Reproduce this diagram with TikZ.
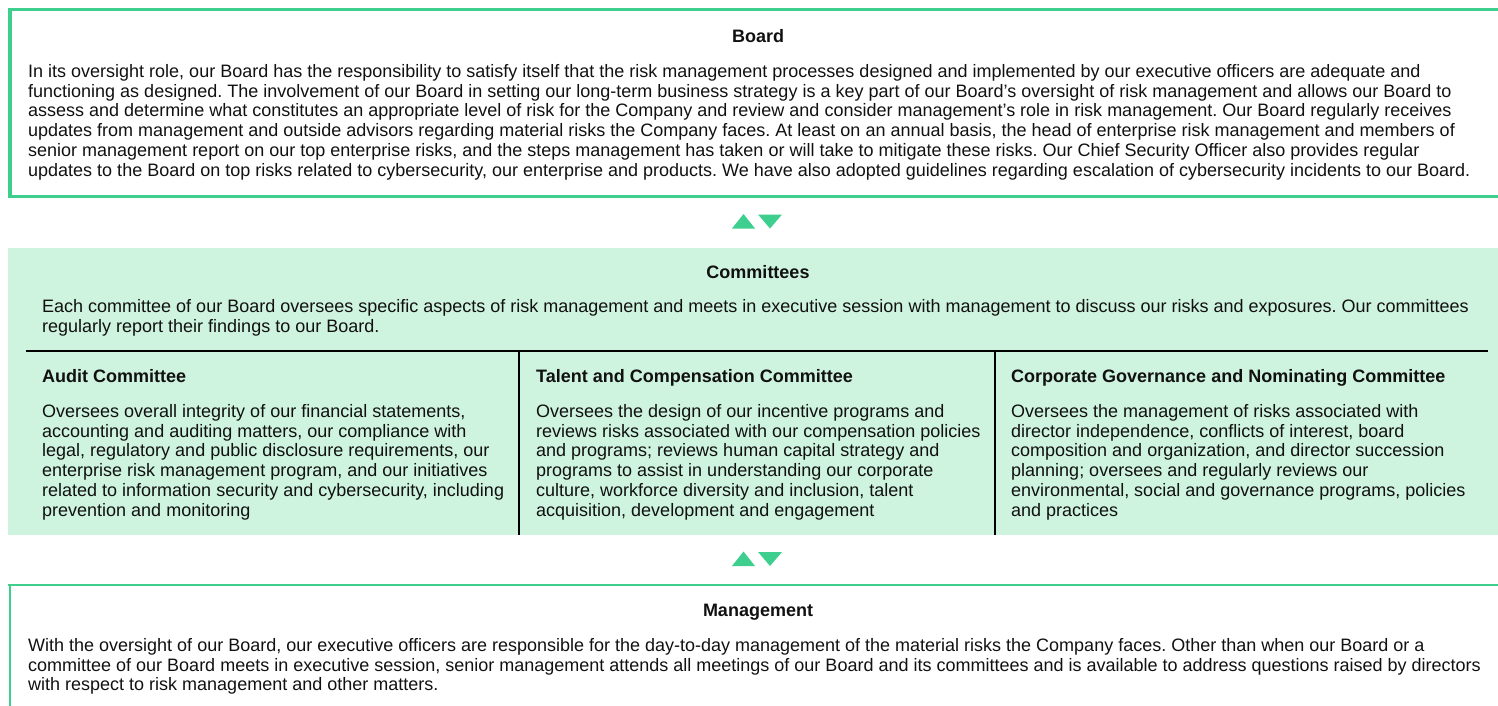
\documentclass[tikz,border=0pt]{standalone}
\usepackage{fontspec}
\setmainfont{Liberation Sans}
\frenchspacing
\definecolor{gr}{RGB}{62,207,142}
\definecolor{lgr}{RGB}{206,243,222}
\definecolor{ink}{RGB}{17,17,17}
\newcommand{\fs}{\fontsize{18}{19.8}\selectfont}
\newcommand{\tp}{\rule{0pt}{13.2pt}}
\begin{document}
\begin{tikzpicture}[x=1pt,y=-1pt,
  body/.style={anchor=north west, inner sep=0pt, align=left, font=\fs, text=ink},
  ttl/.style={anchor=base, inner sep=0pt, font=\bfseries\fs, text=ink},
  sub/.style={anchor=base west, inner sep=0pt, font=\bfseries\fs, text=ink},
  tri/.style={fill=gr}]
\useasboundingbox (0,0) rectangle (1498,706);
% Board frame
\draw[gr, line width=3pt] (8,10) -- (1498,10);
\draw[gr, line width=3pt] (8,196) -- (1498,196);
\draw[gr, line width=4pt] (10,8.5) -- (10,197.5);
% Committees box
\fill[lgr] (8,248) rectangle (1498,535);
\draw[black, line width=2pt] (26,351) -- (1488,351);
\draw[black, line width=2pt] (519,350) -- (519,535);
\draw[black, line width=2pt] (995,350) -- (995,535);
% Management frame
\draw[gr, line width=2pt] (8,585) -- (1498,585);
\draw[gr, line width=2pt] (9.5,584) -- (9.5,706);
% triangles
\fill[tri] (732,228.5) -- (755,228.5) -- (743.5,214) -- cycle;
\fill[tri] (758,214.5) -- (782,214.5) -- (770,228.5) -- cycle;
\fill[tri] (732,566) -- (755,566) -- (743.5,551.5) -- cycle;
\fill[tri] (758,552) -- (782,552) -- (770,566) -- cycle;
% Board
\node[ttl] (boardT) at (758,42.5) {Board};
\node[body] (boardB) at (28,63.8) {\tp In its oversight role, our Board has the responsibility to satisfy itself that the risk management processes designed and implemented by our executive officers are adequate and\\
functioning as designed. The involvement of our Board in setting our long-term business strategy is a key part of our Board’s oversight of risk management and allows our Board to\\
assess and determine what constitutes an appropriate level of risk for the Company and review and consider management’s role in risk management. Our Board regularly receives\\
updates from management and outside advisors regarding material risks the Company faces. At least on an annual basis, the head of enterprise risk management and members of\\
senior management report on our top enterprise risks, and the steps management has taken or will take to mitigate these risks. Our Chief Security Officer also provides regular\\
updates to the Board on top risks related to cybersecurity, our enterprise and products. We have also adopted guidelines regarding escalation of cybersecurity incidents to our Board.};
% Committees
\node[ttl] (comT) at (758,278.5) {Committees};
\node[body] (comB) at (42,299.5) {\tp Each committee of our Board oversees specific aspects of risk management and meets in executive session with management to discuss our risks and exposures. Our committees\\
regularly report their findings to our Board.};
\node[sub] (audT) at (42,382.5) {Audit Committee};
\node[body] (audB) at (42,403.8) {\tp Oversees overall integrity of our financial statements,\\
accounting and auditing matters, our compliance with\\
legal, regulatory and public disclosure requirements, our\\
enterprise risk management program, and our initiatives\\
related to information security and cybersecurity, including\\
prevention and monitoring};
\node[sub] (talT) at (536,382.5) {Talent and Compensation Committee};
\node[body] (talB) at (536,403.8) {\tp Oversees the design of our incentive programs and\\
reviews risks associated with our compensation policies\\
and programs; reviews human capital strategy and\\
programs to assist in understanding our corporate\\
culture, workforce diversity and inclusion, talent\\
acquisition, development and engagement};
\node[sub] (corT) at (1011,382.5) {Corporate Governance and Nominating Committee};
\node[body] (corB) at (1011,403.8) {\tp Oversees the management of risks associated with\\
director independence, conflicts of interest, board\\
composition and organization, and director succession\\
planning; oversees and regularly reviews our\\
environmental, social and governance programs, policies\\
and practices};
% Management
\node[ttl] (manT) at (758,616) {Management};
\node[body] (manB) at (28,637.8) {\tp With the oversight of our Board, our executive officers are responsible for the day-to-day management of the material risks the Company faces. Other than when our Board or a\\
committee of our Board meets in executive session, senior management attends all meetings of our Board and its committees and is available to address questions raised by directors\\
with respect to risk management and other matters.};
\end{tikzpicture}
\end{document}
